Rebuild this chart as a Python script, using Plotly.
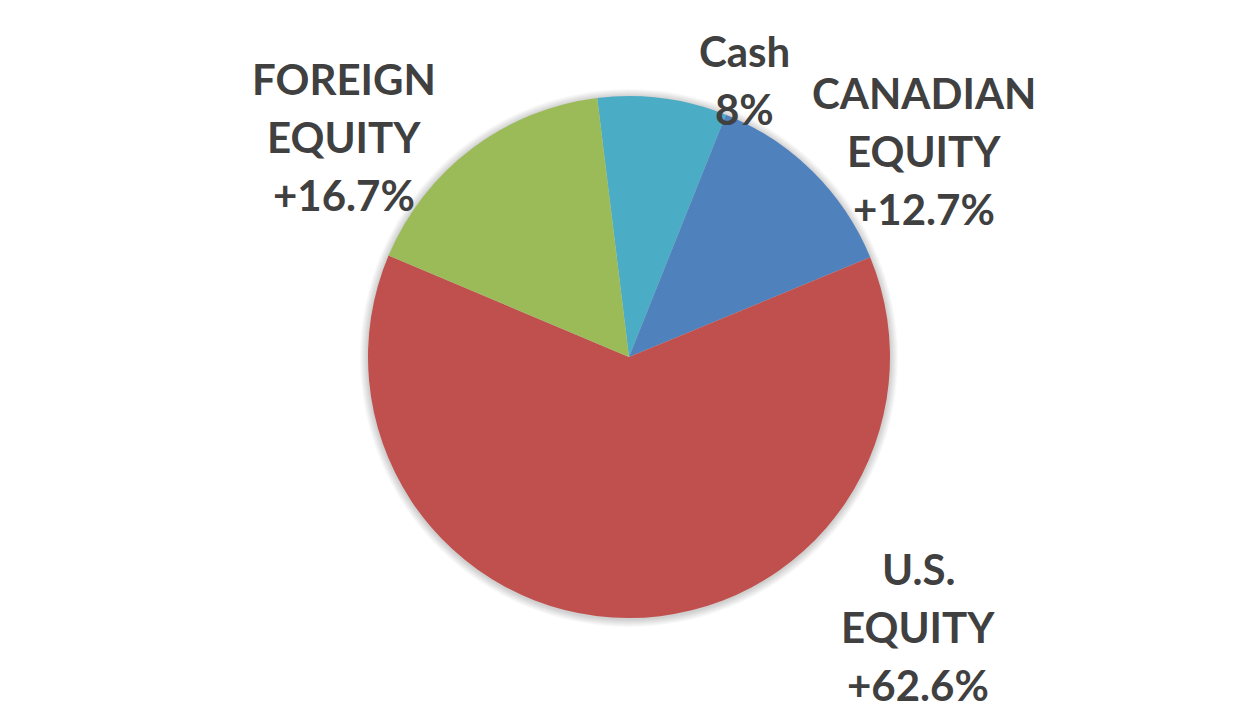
import plotly.graph_objects as go

# ---- data ----
categories = ["Cash", "CANADIAN EQUITY", "U.S. EQUITY", "FOREIGN EQUITY"]
values = [8.0, 12.7, 62.6, 16.7]
label_lines = [
    ["Cash", "8%"],
    ["CANADIAN", "EQUITY", "+12.7%"],
    ["U.S.", "EQUITY", "+62.6%"],
    ["FOREIGN", "EQUITY", "+16.7%"],
]
colors = ["#4BACC6", "#4F81BD", "#C0504D", "#9BBB59"]

W, H = 1258, 712
cx, cy, r = 629, 357, 261

fig = go.Figure()

# soft shadow around the pie
for k in range(1, 9):
    rr = r + k
    fig.add_shape(
        type="circle", xref="paper", yref="paper", layer="below",
        x0=(cx - rr) / W, x1=(cx + rr) / W,
        y0=1 - (cy + 1 + rr) / H, y1=1 - (cy + 1 - rr) / H,
        fillcolor="rgba(0,0,0,0.022)", line=dict(width=0),
    )

fig.add_trace(go.Pie(
    labels=categories,
    values=values,
    sort=False,
    direction="clockwise",
    rotation=-7,
    marker=dict(colors=colors, line=dict(width=0)),
    textinfo="none",
    hoverinfo="label+percent",
    showlegend=False,
    domain=dict(x=[(cx - r) / W, (cx + r) / W], y=[1 - (cy + r) / H, 1 - (cy - r) / H]),
))

# label anchor positions (pixel centres of first line, line step)
label_pos = [(744, 51), (924, 93), (918, 569), (344, 79)]
step = 58
font = dict(family="Lato", size=42, color="#404040")
for lines, (x, y) in zip(label_lines, label_pos):
    for i, t in enumerate(lines):
        fig.add_annotation(
            x=x / W, y=1 - (y + i * step) / H, xref="paper", yref="paper",
            text="<b>%s</b>" % t, showarrow=False, font=font,
            xanchor="center", yanchor="middle",
        )

fig.update_layout(
    width=W, height=H,
    margin=dict(l=0, r=0, t=0, b=0),
    paper_bgcolor="white", plot_bgcolor="white",
)
fig.write_html("out.html")
